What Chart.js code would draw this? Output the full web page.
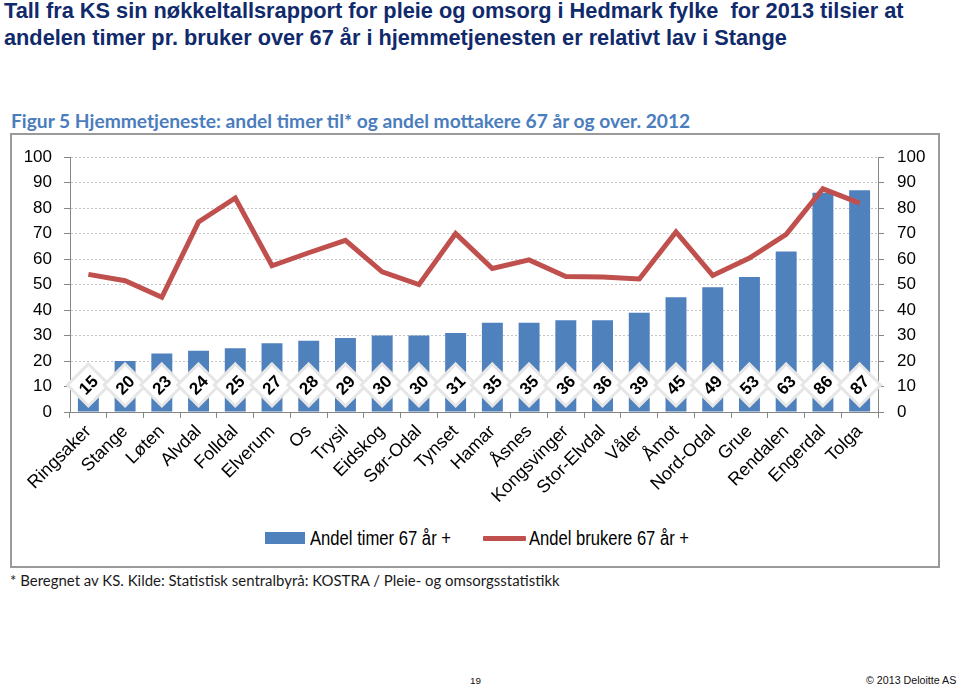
<!DOCTYPE html>
<html>
<head>
<meta charset="utf-8">
<script src="https://cdn.jsdelivr.net/npm/chart.js@4.4.1/dist/chart.umd.min.js"></script>
<style>
  html, body { margin: 0; padding: 0; background: #fff; }
  body { width: 960px; height: 686px; position: relative; overflow: hidden; }
  .txt { position: absolute; white-space: nowrap; line-height: normal; margin: 0; transform-origin: 0 0; }
  #box { position: absolute; left: 10px; top: 133px; width: 926px; height: 431px; border: 2px solid #9a9a9a; }
  #wrap { position: absolute; left: 11px; top: 134px; width: 927px; height: 386px; }
  .sw { position: absolute; }
</style>
</head>
<body>
<div id="t1" class="txt">Tall fra KS sin nøkkeltallsrapport for pleie og omsorg i Hedmark fylke&nbsp; for 2013 tilsier at</div>
<div id="t2" class="txt">andelen timer pr. bruker over 67 år i hjemmetjenesten er relativt lav i Stange</div>
<div id="ft" class="txt">Figur 5 Hjemmetjeneste: andel timer til* og andel mottakere 67 år og over. 2012</div>
<div id="box"></div>
<div id="wrap"><canvas id="c" width="927" height="386"></canvas></div>
<div class="sw" style="left:265px;top:532px;width:40px;height:12px;background:#4F81BD"></div>
<div id="lg1" class="txt">Andel timer 67 år +</div>
<div class="sw" style="left:483px;top:536px;width:43px;height:5px;background:#C0504D;border-radius:1px"></div>
<div id="lg2" class="txt">Andel brukere 67 år +</div>
<div id="fn" class="txt">* Beregnet av KS. Kilde: Statistisk sentralbyrå: KOSTRA / Pleie- og omsorgsstatistikk</div>
<div id="pg" class="txt">19</div>
<div id="cp" class="txt">© 2013 Deloitte AS</div>
<script>
// ---- data ----
const categories = ['Ringsaker','Stange','Løten','Alvdal','Folldal','Elverum','Os','Trysil','Eidskog','Sør-Odal','Tynset','Hamar','Åsnes','Kongsvinger','Stor-Elvdal','Våler','Åmot','Nord-Odal','Grue','Rendalen','Engerdal','Tolga'];
const timerValues = [15,20,23,24,25,27,28,29,30,30,31,35,35,36,36,39,45,49,53,63,86,87];
const brukereValues = [54,51.5,45,74.6,84,57.4,62.5,67.4,55,50,70,56.3,59.7,53.2,53,52.2,70.7,53.6,60.4,69.7,87.6,82];
const seriesNames = ['Andel timer 67 år +','Andel brukere 67 år +'];
const yMin = 0, yMax = 100, yStep = 10;
const labelAnchorValue = 10.6;

const SANS = '"Liberation Sans",Arial,sans-serif';

// ---- text placement helper ----
const mctx = document.createElement('canvas').getContext('2d');
function place(id, x, baseline, width, family, weight, color, align, fixedSize) {
  const el = document.getElementById(id);
  const text = el.textContent;
  let size, sx = 1;
  if (fixedSize) {
    size = fixedSize;
    mctx.font = weight + ' ' + size + 'px ' + family;
    sx = width / mctx.measureText(text).width;
  } else {
    mctx.font = weight + ' 100px ' + family;
    size = 100 * width / mctx.measureText(text).width;
  }
  mctx.font = weight + ' ' + size + 'px ' + family;
  const m = mctx.measureText(text);
  el.style.font = weight + ' ' + size + 'px ' + family;
  el.style.color = color;
  el.style.left = (align === 'right' ? x - width : x) + 'px';
  el.style.top = (baseline - m.fontBoundingBoxAscent) + 'px';
  if (sx !== 1) el.style.transform = 'scaleX(' + sx + ')';
}
place('t1', 4, 17.5, 900, SANS, 'bold', '#102a6b');
place('t2', 4, 45, 783, SANS, 'bold', '#102a6b');
place('ft', 11, 127.5, 681, 'Lato,"Open Sans",sans-serif', 'bold', '#4a7dbd');
place('lg1', 310, 544.5, 141, SANS, 'normal', '#000', 'left', 19.5);
place('lg2', 529, 544.5, 160, SANS, 'normal', '#000', 'left', 19.5);
place('fn', 10, 585.5, 551, 'Lato,"Open Sans",sans-serif', 'normal', '#1a1a1a');
place('pg', 470, 684, 11, SANS, 'normal', '#111');
place('cp', 957, 684, 91, SANS, 'normal', '#111', 'right');

// ---- diamond labels plugin ----
const diamondLabels = {
  id: 'diamondLabels',
  afterDatasetsDraw(chart) {
    const ctx = chart.ctx;
    const meta = chart.getDatasetMeta(0);
    const ys = chart.scales.y;
    const cy = ys.getPixelForValue(labelAnchorValue);
    const h = 21;
    meta.data.forEach((bar, i) => {
      const cx = bar.x;
      ctx.save();
      ctx.beginPath();
      ctx.moveTo(cx, cy - h);
      ctx.lineTo(cx + h, cy);
      ctx.lineTo(cx, cy + h);
      ctx.lineTo(cx - h, cy);
      ctx.closePath();
      ctx.fillStyle = '#ffffff';
      ctx.fill();
      ctx.lineWidth = 3;
      ctx.strokeStyle = '#e6e6e6';
      ctx.stroke();
      ctx.translate(cx, cy);
      ctx.rotate(-Math.PI / 4);
      ctx.font = 'bold 17px ' + SANS;
      ctx.fillStyle = '#000';
      ctx.textAlign = 'center';
      ctx.textBaseline = 'middle';
      ctx.fillText(String(timerValues[i]), 0, 1);
      ctx.restore();
    });
  }
};

const axisGray = '#868686';
new Chart(document.getElementById('c'), {
  type: 'bar',
  data: {
    labels: categories,
    datasets: [
      { type: 'bar', label: seriesNames[0], data: timerValues, backgroundColor: '#4F81BD',
        categoryPercentage: 1, barPercentage: 0.57, order: 1, yAxisID: 'y' },
      { type: 'line', label: seriesNames[1], data: brukereValues, borderColor: '#C0504D', backgroundColor: '#C0504D',
        borderWidth: 5, pointRadius: 0, tension: 0, fill: false, borderJoinStyle: 'miter', borderCapStyle: 'butt', order: 0, yAxisID: 'y' }
    ]
  },
  options: {
    responsive: false, animation: false, devicePixelRatio: 1,
    layout: { padding: { top: 22, left: 0, right: 0, bottom: 0 } },
    plugins: { legend: { display: false }, tooltip: { enabled: false } },
    scales: {
      x: {
        offset: true,
        grid: { offset: true, drawOnChartArea: false, tickLength: 6, tickColor: axisGray },
        border: { color: axisGray, width: 1 },
        ticks: { autoSkip: false, maxRotation: 45, minRotation: 45, padding: 3, color: '#000', font: { family: SANS, size: 18 } },
        afterFit(s) { s.height = 108; }
      },
      y: {
        position: 'left', min: yMin, max: yMax,
        ticks: { stepSize: yStep, autoSkip: false, padding: 12, color: '#000', font: { family: SANS, size: 17 } },
        grid: { color: '#c4c4c4', lineWidth: 1, tickLength: 6, tickColor: axisGray },
        border: { color: axisGray, width: 1, dash: [2, 2] },
        afterFit(s) { s.width = 59; }
      },
      y1: {
        position: 'right', min: yMin, max: yMax,
        ticks: { stepSize: yStep, autoSkip: false, padding: 13, color: '#000', font: { family: SANS, size: 17 } },
        grid: { drawOnChartArea: false, tickLength: 6, tickColor: axisGray },
        border: { color: axisGray, width: 1 },
        afterFit(s) { s.width = 60; }
      }
    }
  },
  plugins: [diamondLabels]
});
</script>
</body>
</html>
